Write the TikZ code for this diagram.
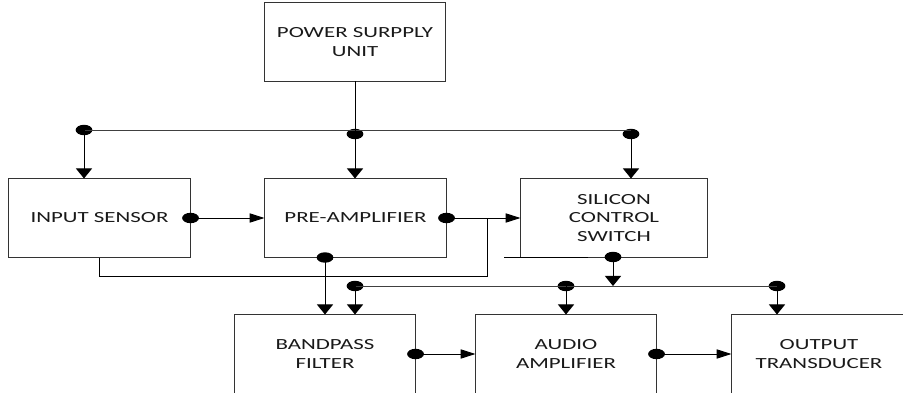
\documentclass[tikz,border=0pt]{standalone}
\usepackage{fontspec}
\usetikzlibrary{arrows.meta,shapes.geometric}
\newfontfamily\blockfont[FakeStretch=1.48]{Carlito}
\begin{document}
\begin{tikzpicture}[x=0.025cm, y=-0.025cm, line width=0.7pt,
    blk/.style={draw, black!80, text=black!90, minimum width=4.5cm, minimum height=1.95cm,
        align=center, font=\blockfont\fontsize{11}{13}\selectfont},
    dot/.style={ellipse, fill=black, inner sep=0pt, minimum width=0.42cm, minimum height=0.26cm},
    dn/.style={-{Triangle[length=0.25cm, width=0.4cm]}},
    rt/.style={-{Triangle[length=0.37cm, width=0.23cm]}}]
        \useasboundingbox (0,0) rectangle (903,393);
        \node[blk] (psu) at (355,42) {POWER SURPPLY\\UNIT};
        \node[blk, minimum width=4.525cm] (sensor) at (99.5,218) {INPUT SENSOR};
        \node[blk, minimum width=4.525cm] (pre) at (355.5,218) {PRE-AMPLIFIER};
        \node[blk, minimum width=4.65cm] (scs) at (614,218) {SILICON\\CONTROL\\SWITCH};
        \node[blk] (bpf) at (325,354) {BANDPASS\\FILTER};
        \node[blk] (aud) at (566,354) {AUDIO\\AMPLIFIER};
        \node[blk, minimum width=4.35cm] (out) at (819,354) {OUTPUT\\TRANSDUCER};

        % junction dots
        \node[dot] (p1) at (84,130) {};
        \node[dot] (p2) at (355,134) {};
        \node[dot] (p3) at (631,134) {};
        \node[dot] (s1) at (sensor.east) {};
        \node[dot] (s2) at (pre.east) {};
        \node[dot] (s3) at (bpf.north |- pre.south) {};
        \node[dot] (s4) at (613,257) {};
        \node[dot] (q1) at (355,286) {};
        \node[dot] (q2) at (566,286) {};
        \node[dot] (q3) at (777,286) {};
        \node[dot] (s5) at (bpf.east) {};
        \node[dot] (s6) at (aud.east) {};
        \coordinate (tap) at (487,218);
        \coordinate (loop) at (487,276);
        \coordinate (stub) at (504,257);

        % supply bus
        \draw[black!75] (p1.center) -- (p3 |- p1);
        \draw (psu) -- (p2.center);
        \foreach \p in {p1, p2, p3}
        \draw[dn] (\p.center) -- (\p |- sensor.north);

        % signal path
        \draw[rt] (s1.center) -- (pre.west);
        \draw[rt] (s2.center) -- (scs.west);
        \draw (sensor.south) |- (loop) -- (tap);
        \draw (stub) -- (588,257);
        \draw[dn] (s3.center) -- (s3 |- bpf.north);
        \draw[dn] (s4.center) -- (s4 |- q1);
        \draw[black!75] (q1.center) -- (q3.center);
        \foreach \q in {q1, q2, q3}
        \draw[dn] (\q.center) -- (\q |- bpf.north);
        \draw[rt] (s5.center) -- (aud.west);
        \draw[rt] (s6.center) -- (out.west);
    \end{tikzpicture}
\end{document}
